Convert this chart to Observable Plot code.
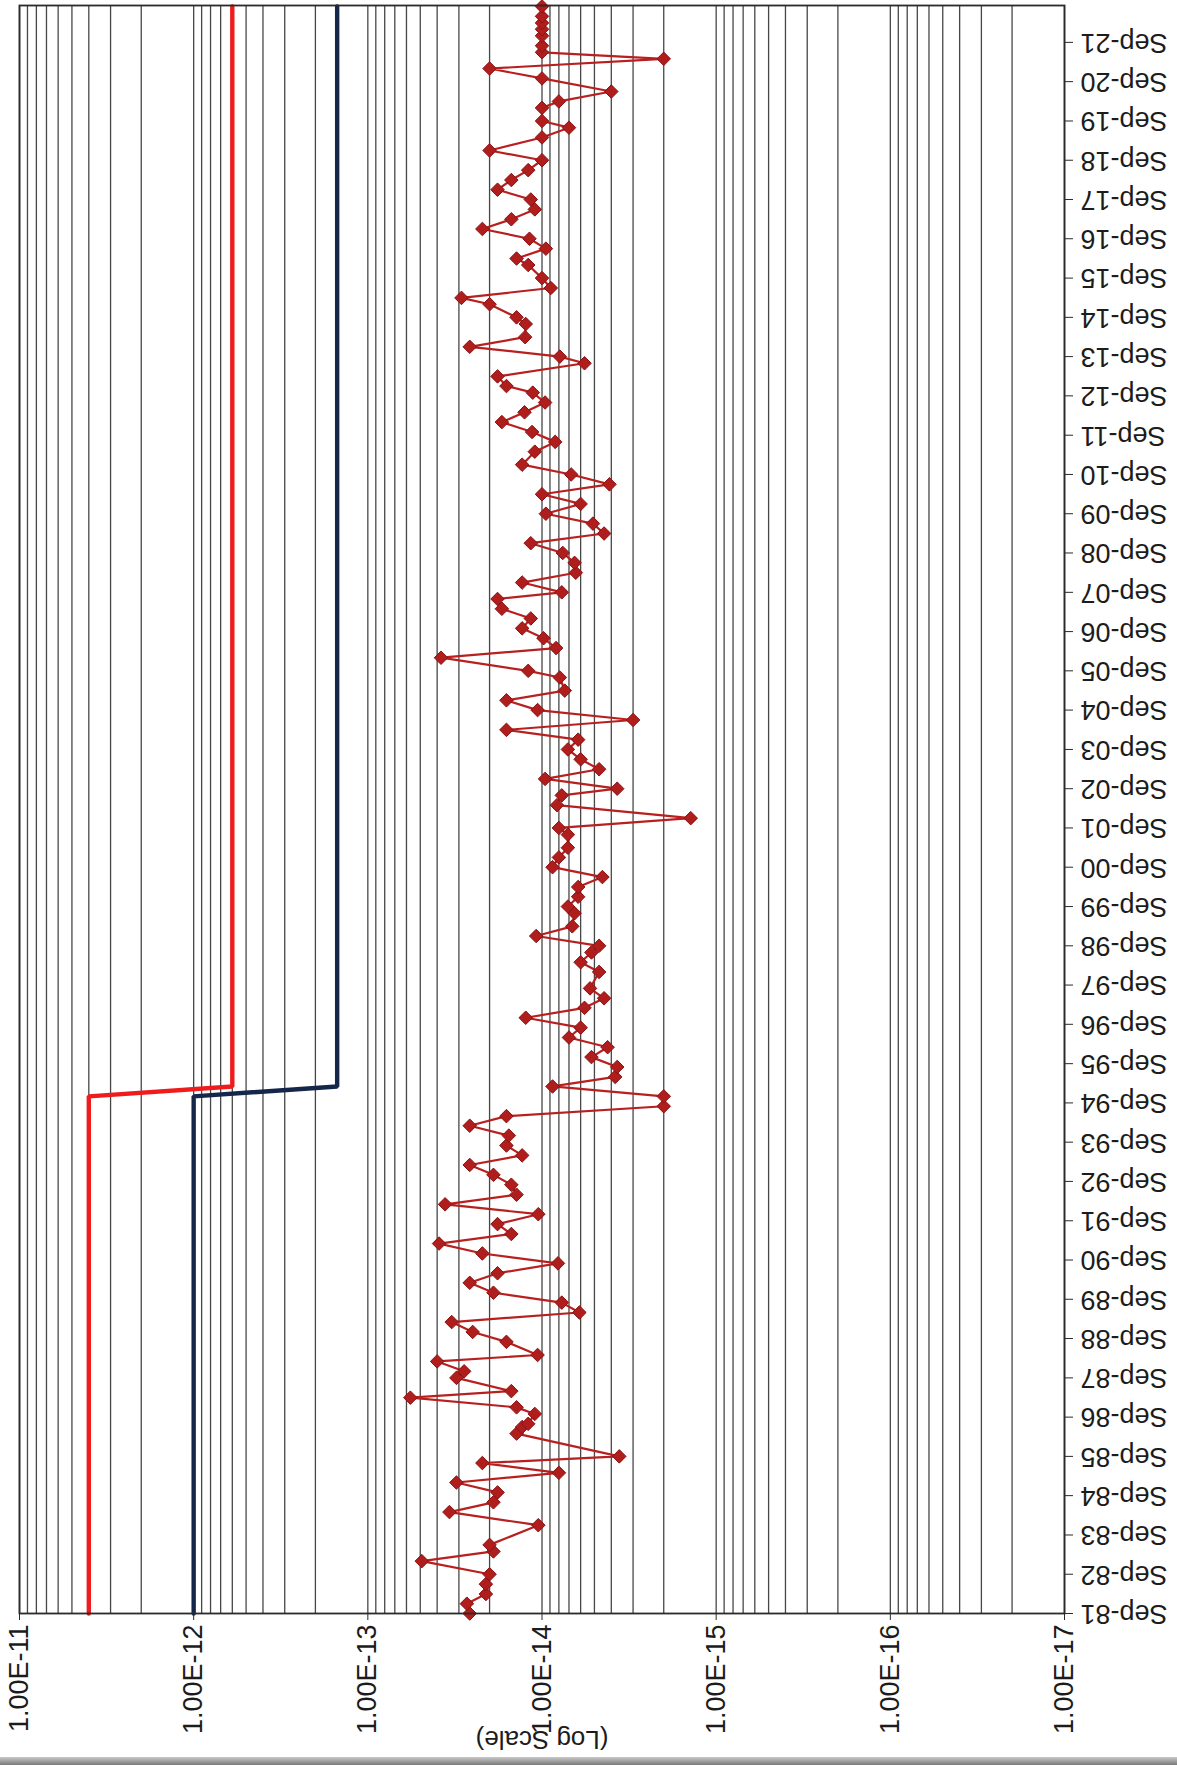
<!DOCTYPE html>
<html>
<head>
<meta charset="utf-8">
<script src="https://cdn.jsdelivr.net/npm/d3@7"></script>
<script src="https://cdn.jsdelivr.net/npm/@observablehq/plot@0.6"></script>
<style>
  html, body { margin: 0; padding: 0; background: #fff; }
  #chart svg { display: block; }
  #scanedge { height: 8px; background: linear-gradient(#c8c8c8, #7a7a7a); }
</style>
</head>
<body>
<div id="chart"></div>
<div id="scanedge"></div>
<script>
// ---- data ----
const sampleDates = [
  "1981-09","1981-12","1982-03","1982-06","1982-09","1983-01","1983-04","1983-06","1983-12","1984-04",
  "1984-07","1984-10","1985-01","1985-04","1985-07","1985-09","1986-04","1986-06","1986-07","1986-10",
  "1986-12","1987-03","1987-05","1987-09","1987-11","1988-02","1988-04","1988-08","1988-11","1989-02",
  "1989-05","1989-08","1989-11","1990-02","1990-05","1990-08","1990-11","1991-02","1991-05","1991-08",
  "1991-11","1992-02","1992-05","1992-08","1992-11","1993-02","1993-05","1993-08","1993-11","1994-02",
  "1994-05","1994-08","1994-11","1995-02","1995-05","1995-08","1995-11","1996-02","1996-05","1996-08",
  "1996-11","1997-02","1997-05","1997-08","1998-01","1998-04","1998-07","1998-09","1998-12","1999-03",
  "1999-07","1999-09","1999-12","2000-03","2000-06","2000-09","2000-12","2001-03","2001-07","2001-09",
  "2001-12","2002-04","2002-07","2002-09","2002-12","2003-03","2003-06","2003-09","2003-12","2004-03",
  "2004-06","2004-09","2004-12","2005-03","2005-07","2005-09","2006-01","2006-04","2006-07","2006-10",
  "2007-01","2007-04","2007-07","2007-09","2007-12","2008-03","2008-06","2008-09","2008-12","2009-03",
  "2009-06","2009-09","2009-12","2010-03","2010-06","2010-09","2010-12","2011-04","2011-07","2011-10",
  "2012-01","2012-04","2012-07","2012-10","2012-12","2013-03","2013-07","2013-09","2013-12","2014-03",
  "2014-07","2014-09","2015-01","2015-03","2015-06","2015-09","2016-01","2016-03","2016-06","2016-09",
  "2016-12","2017-03","2017-06","2017-09","2017-12","2018-03","2018-06","2018-09","2018-12","2019-04",
  "2019-07","2019-09","2020-01","2020-03","2020-06","2020-10","2021-01","2021-04","2021-06","2021-08",
  "2021-11","2022-01","2022-03","2022-05","2022-08"
];
const sampleValues = [
  2.6e-14,2.7e-14,2.1e-14,2.1e-14,2.0e-14,4.9e-14,1.9e-14,2.0e-14,1.05e-14,3.4e-14,
  1.9e-14,1.8e-14,3.1e-14,8.0e-15,2.2e-14,3.6e-15,1.4e-14,1.3e-14,1.2e-14,1.1e-14,
  1.4e-14,5.7e-14,1.5e-14,3.1e-14,2.8e-14,4.0e-14,1.06e-14,1.6e-14,2.5e-14,3.3e-14,
  6.1e-15,7.7e-15,1.9e-14,2.6e-14,1.8e-14,8.1e-15,2.2e-14,3.9e-14,1.5e-14,1.8e-14,
  1.05e-14,3.6e-14,1.4e-14,1.5e-14,1.9e-14,2.6e-14,1.3e-14,1.6e-14,1.55e-14,2.6e-14,
  1.6e-14,2.0e-15,2.0e-15,8.7e-15,3.8e-15,3.7e-15,5.2e-15,4.2e-15,7.0e-15,6.0e-15,
  1.24e-14,5.7e-15,4.4e-15,5.3e-15,4.7e-15,6.0e-15,5.2e-15,4.7e-15,1.08e-14,6.7e-15,
  6.5e-15,7.1e-15,6.2e-15,6.2e-15,4.5e-15,8.7e-15,8.0e-15,7.1e-15,7.1e-15,8.0e-15,
  1.4e-15,8.2e-15,7.7e-15,3.7e-15,9.6e-15,4.7e-15,6.0e-15,7.1e-15,6.2e-15,1.6e-14,
  3.0e-15,1.06e-14,1.6e-14,7.4e-15,7.9e-15,1.2e-14,3.8e-14,8.3e-15,9.8e-15,1.3e-14,
  1.16e-14,1.7e-14,1.8e-14,7.7e-15,1.3e-14,6.4e-15,6.5e-15,7.6e-15,1.16e-14,4.4e-15,
  5.1e-15,9.5e-15,6.0e-15,1.0e-14,4.1e-15,6.8e-15,1.3e-14,1.1e-14,8.4e-15,1.14e-14,
  1.7e-14,1.26e-14,9.6e-15,1.13e-14,1.6e-14,1.8e-14,5.7e-15,7.9e-15,2.6e-14,1.25e-14,
  1.24e-14,1.4e-14,2.0e-14,2.9e-14,8.9e-15,1.0e-14,1.2e-14,1.4e-14,9.5e-15,1.18e-14,
  2.2e-14,1.5e-14,1.1e-14,1.16e-14,1.8e-14,1.5e-14,1.2e-14,1.0e-14,2.0e-14,1.0e-14,
  7.0e-15,1.0e-14,1.0e-14,8.0e-15,4.0e-15,1.0e-14,2.0e-14,2.0e-15,1.0e-14,1.0e-14,
  1.0e-14,1.0e-14,1.0e-14,1.0e-14,1.0e-14
];
const limitDates = ["1981-09","1994-11","1995-02","2022-08"];
const redLimit   = [4.0e-12, 4.0e-12, 6.0e-13, 6.0e-13];
const navyLimit  = [1.0e-12, 1.0e-12, 1.5e-13, 1.5e-13];

const valueTicks = [1e-11, 1e-12, 1e-13, 1e-14, 1e-15, 1e-16, 1e-17];
const tickYears = d3.range(1981, 2022); // Sep-81 ... Sep-21
const axisTitle = "(Log Scale)";

// ---- build tables ----
const parseMonth = d3.utcParse("%Y-%m");
const samples = sampleDates.map((d, i) => ({date: parseMonth(d), value: sampleValues[i]}));
const limits = limitDates.map((d, i) => ({date: parseMonth(d), red: redLimit[i], navy: navyLimit[i]}));
const dateTicks = tickYears.map(y => new Date(Date.UTC(y, 8, 1)));
const gridValues = [1e-11];
for (let e = -12; e >= -17; e--) for (let k = 9; k >= 1; k--) gridValues.push(k * Math.pow(10, e));

const diamond = {
  draw(ctx, size) {
    const r = Math.sqrt(size / 2);
    ctx.moveTo(0, -r); ctx.lineTo(r, 0); ctx.lineTo(0, r); ctx.lineTo(-r, 0); ctx.closePath();
  }
};

const W = 1177, H = 1757;
const chart = Plot.plot({
  width: W,
  height: H,
  marginLeft: 19,
  marginRight: 113,
  marginTop: 5,
  marginBottom: H - 1613,
  style: {fontFamily: "'Liberation Sans', Arial, sans-serif", fontSize: "27px", background: "#fff", color: "#1c1c1c"},
  x: {type: "log", domain: [1e-11, 1e-17], label: null},
  y: {type: "utc", domain: [new Date(Date.UTC(1981, 8, 1)), new Date(Date.UTC(2022, 7, 10))], label: null},
  marks: [
    Plot.gridX(gridValues, {stroke: "#333", strokeOpacity: 0.9, strokeWidth: 1.3}),
    Plot.line(limits, {x: "red", y: "date", stroke: "#ee1c1c", strokeWidth: 4.4, strokeLinejoin: "miter"}),
    Plot.line(limits, {x: "navy", y: "date", stroke: "#15264b", strokeWidth: 4.4, strokeLinejoin: "miter"}),
    Plot.line(samples, {x: "value", y: "date", stroke: "#b82020", strokeWidth: 2.2}),
    Plot.dot(samples, {x: "value", y: "date", symbol: diamond, r: 5.4, fill: "#b01d1d", stroke: "#8a1212", strokeWidth: 1}),
    Plot.frame({stroke: "#2a2a2a", strokeWidth: 1.8}),
    Plot.axisX({
      ticks: valueTicks, anchor: "bottom", tickFormat: d => d.toExponential(2).toUpperCase(),
      tickRotate: -90, textAnchor: "end", lineAnchor: "middle", tickSize: 7, tickPadding: 4,
      fontSize: 27, label: null, stroke: "#2a2a2a"
    }),
    Plot.axisY({
      ticks: dateTicks, anchor: "right", tickFormat: d3.utcFormat("%b-%y"),
      tickRotate: 180, textAnchor: "end", lineAnchor: "middle", tickSize: 8, tickPadding: 8,
      fontSize: 27, label: null, stroke: "#2a2a2a"
    }),
    Plot.text([axisTitle], {text: d => d, frameAnchor: "bottom", dy: 126, rotate: 180,
      textAnchor: "middle", lineAnchor: "middle", fontSize: 26, fill: "#1c1c1c"})
  ]
});
document.getElementById("chart").appendChild(chart);
</script>
</body>
</html>
